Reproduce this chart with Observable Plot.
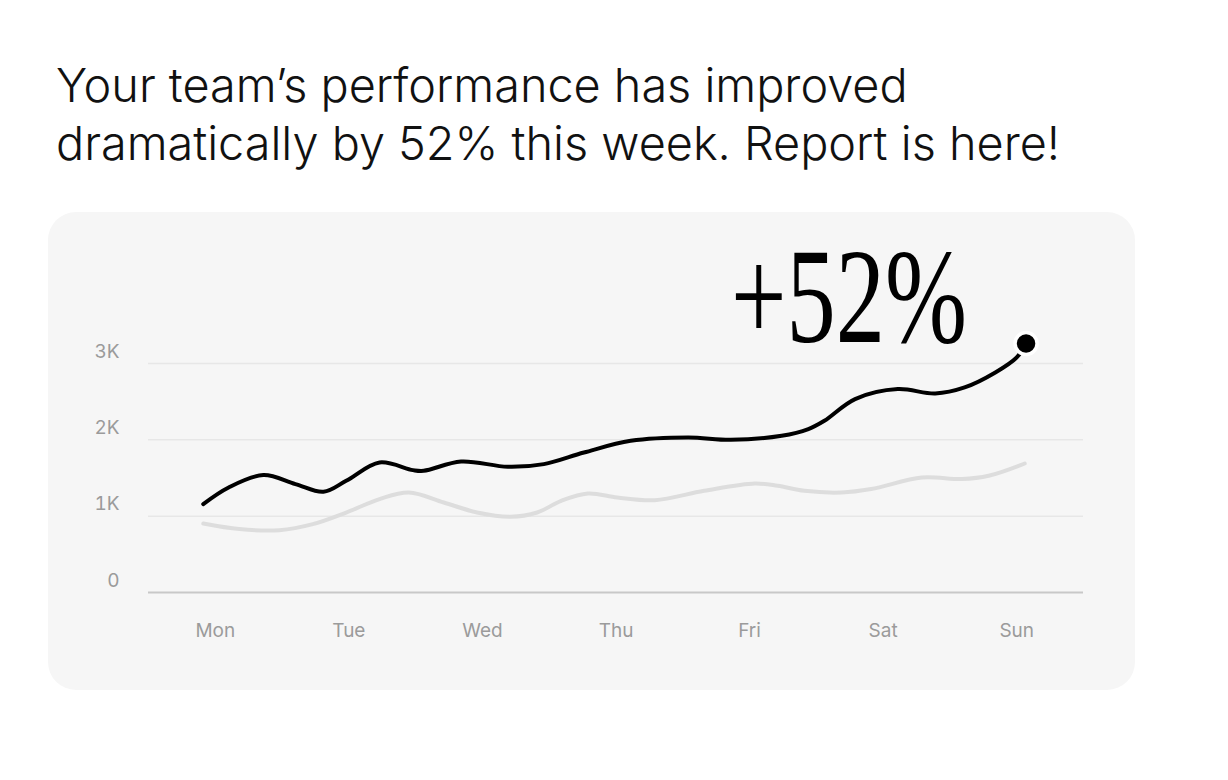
<!DOCTYPE html>
<html>
<head>
<meta charset="utf-8">
<script src="https://cdn.jsdelivr.net/npm/d3@7"></script>
<script src="https://cdn.jsdelivr.net/npm/@observablehq/plot@0.6"></script>
<style>
  html, body { margin: 0; padding: 0; background: #ffffff; }
  body { width: 1228px; height: 780px; position: relative; overflow: hidden; }
  #title {
    position: absolute; left: 56px; top: 56px;
    font-family: "Inter", "Noto Sans", sans-serif; font-weight: 300;
    font-size: 46.8px; line-height: 58px; color: #111; letter-spacing: 0px;
  }
  #chart { position: absolute; left: 48px; top: 212px; }
  #chart svg { background: #f6f6f6; border-radius: 28px; display: block; }
</style>
</head>
<body>
<div id="title">Your team’s performance has improved<br>dramatically by 52% this week. Report is here!</div>
<div id="chart"></div>
<script>
// Categories and tick labels
const days = ["Mon", "Tue", "Wed", "Thu", "Fri", "Sat", "Sun"];
const dayTicks = [0, 1, 2, 3, 4, 5, 6];
const yTicks = [0, 1000, 2000, 3000];
const yTickLabels = ["0", "1K", "2K", "3K"];
const gridTicks = [1000, 2000, 3000];
const badge = "+52%";

// This week (black line): position in days (Mon = 0) and value
const thisWeekX = [-0.09, 0.10, 0.36, 0.60, 0.81, 0.98, 1.23, 1.48, 1.56, 1.84, 2.19, 2.46, 2.76, 3.11, 3.54, 3.86, 4.24, 4.44, 4.56, 4.79, 5.11, 5.39, 5.61, 5.84, 6.00, 6.07];
const thisWeekY = [1158, 1376, 1538, 1420, 1319, 1463, 1703, 1603, 1594, 1716, 1647, 1682, 1834, 1987, 2031, 2000, 2053, 2141, 2249, 2534, 2665, 2607, 2686, 2882, 3079, 3262];

// Last week (grey line)
const lastWeekX = [-0.09, 0.18, 0.48, 0.73, 0.98, 1.23, 1.45, 1.71, 1.96, 2.21, 2.41, 2.59, 2.79, 3.01, 3.29, 3.66, 4.04, 4.21, 4.41, 4.69, 4.91, 5.29, 5.59, 5.79, 6.06];
const lastWeekY = [904, 831, 817, 896, 1048, 1224, 1310, 1179, 1048, 992, 1048, 1201, 1297, 1245, 1210, 1332, 1428, 1398, 1332, 1310, 1355, 1507, 1486, 1529, 1690];

const thisWeek = thisWeekX.map((x, i) => ({x, y: thisWeekY[i]}));
const lastWeek = lastWeekX.map((x, i) => ({x, y: lastWeekY[i]}));
const lastPoint = thisWeek[thisWeek.length - 1];

const chart = Plot.plot({
  width: 1087,
  height: 478,
  marginLeft: 100,
  marginRight: 52,
  marginTop: 151,
  marginBottom: 98,
  style: {background: "#f6f6f6", fontFamily: "Inter, 'Noto Sans', sans-serif"},
  x: {domain: [-0.5, 6.5]},
  y: {domain: [0, 3000]},
  marks: [
    Plot.gridY(gridTicks, {stroke: "#e7e7e7", strokeOpacity: 1, strokeWidth: 1.5}),
    Plot.ruleY([0], {stroke: "#c8c8c8", strokeWidth: 2}),
    Plot.axisY(yTicks, {
      tickSize: 0, tickPadding: 29, dy: -12,
      tickFormat: (d) => yTickLabels[yTicks.indexOf(d)],
      fontSize: 19, fill: "#9b9b9b", label: null
    }),
    Plot.axisX(dayTicks, {
      tickSize: 0, tickPadding: 31,
      tickFormat: (d) => days[d],
      fontSize: 19, fill: "#9b9b9b", label: null
    }),
    Plot.line(lastWeek, {x: "x", y: "y", stroke: "#dddddd", strokeWidth: 4, curve: "catmull-rom"}),
    Plot.line(thisWeek, {x: "x", y: "y", stroke: "#000000", strokeWidth: 4, curve: "catmull-rom"}),
    Plot.dot([lastPoint], {x: "x", y: "y", r: 11, fill: "#000000", stroke: "#ffffff", strokeWidth: 3.5}),
    Plot.text([lastPoint], {
      x: "x", y: "y", text: () => badge,
      textAnchor: "end", lineAnchor: "bottom", dx: -59, dy: -2,
      fontFamily: "'Liberation Serif', 'DejaVu Serif', serif", fontSize: 136, fill: "#000"
    })
  ]
});

document.getElementById("chart").appendChild(chart);
chart.querySelectorAll("text").forEach((t) => {
  if (t.textContent === badge) {
    t.setAttribute("textLength", 236);
    t.setAttribute("lengthAdjust", "spacingAndGlyphs");
  }
});
</script>
</body>
</html>
